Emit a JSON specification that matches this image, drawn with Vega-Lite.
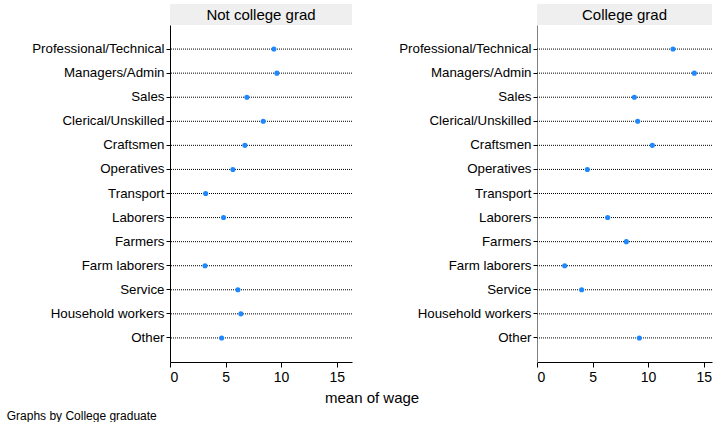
{
  "$schema": "https://vega.github.io/schema/vega-lite/v6.json",
  "padding": {"left": 6, "top": 4, "right": 0, "bottom": 0},
  "config": {
    "font": "Liberation Sans",
    "view": {"stroke": null},
    "axis": {"grid": false, "domainColor": "#000", "tickColor": "#000", "labelColor": "#000", "labelFontSize": 13}
  },
  "datasets": {
    "wages": [
      {"grad": "Not college grad", "occ": "Professional/Technical", "wage": 9.35},
      {"grad": "Not college grad", "occ": "Managers/Admin", "wage": 9.62},
      {"grad": "Not college grad", "occ": "Sales", "wage": 6.92},
      {"grad": "Not college grad", "occ": "Clerical/Unskilled", "wage": 8.39},
      {"grad": "Not college grad", "occ": "Craftsmen", "wage": 6.74},
      {"grad": "Not college grad", "occ": "Operatives", "wage": 5.66},
      {"grad": "Not college grad", "occ": "Transport", "wage": 3.21},
      {"grad": "Not college grad", "occ": "Laborers", "wage": 4.82},
      {"grad": "Not college grad", "occ": "Farmers", "wage": null},
      {"grad": "Not college grad", "occ": "Farm laborers", "wage": 3.15},
      {"grad": "Not college grad", "occ": "Service", "wage": 6.11},
      {"grad": "Not college grad", "occ": "Household workers", "wage": 6.38},
      {"grad": "Not college grad", "occ": "Other", "wage": 4.65},
      {"grad": "College grad", "occ": "Professional/Technical", "wage": 12.24},
      {"grad": "College grad", "occ": "Managers/Admin", "wage": 14.16},
      {"grad": "College grad", "occ": "Sales", "wage": 8.76},
      {"grad": "College grad", "occ": "Clerical/Unskilled", "wage": 9.06},
      {"grad": "College grad", "occ": "Craftsmen", "wage": 10.38},
      {"grad": "College grad", "occ": "Operatives", "wage": 4.53},
      {"grad": "College grad", "occ": "Transport", "wage": null},
      {"grad": "College grad", "occ": "Laborers", "wage": 6.36},
      {"grad": "College grad", "occ": "Farmers", "wage": 8.04},
      {"grad": "College grad", "occ": "Farm laborers", "wage": 2.49},
      {"grad": "College grad", "occ": "Service", "wage": 4.02},
      {"grad": "College grad", "occ": "Household workers", "wage": null},
      {"grad": "College grad", "occ": "Other", "wage": 9.21}
    ]
  },
  "title": {"text": "Graphs by College graduate", "orient": "bottom", "anchor": "start", "fontSize": 12, "fontWeight": "normal", "color": "#000", "dx": -25, "offset": 5},
  "vconcat": [
    {
      "title": {"text": "mean of wage", "orient": "bottom", "anchor": "middle", "fontSize": 15, "fontWeight": "normal", "color": "#000", "offset": 7},
      "bounds": "flush",
      "spacing": 367,
      "hconcat": [
        {
          "bounds": "flush",
          "spacing": 0,
          "vconcat": [
            {
              "width": 182, "height": 21,
              "view": {"fill": "#efefef", "stroke": null},
              "data": {"values": [{"h": "Not college grad"}]},
              "mark": {"type": "text", "fontSize": 15, "color": "#000", "baseline": "middle"},
              "encoding": {"text": {"field": "h"}}
            },
            {
              "width": 182, "height": 337,
              "data": {"name": "wages"},
              "transform": [{"filter": "datum.grad === 'Not college grad'"}],
              "layer": [
                {
                  "mark": {"type": "rule", "strokeDash": [1, 1], "color": "#000", "strokeWidth": 1},
                  "encoding": {
                    "y": {"field": "occ", "type": "nominal",
                      "scale": {"domain": ["Professional/Technical", "Managers/Admin", "Sales", "Clerical/Unskilled", "Craftsmen", "Operatives", "Transport", "Laborers", "Farmers", "Farm laborers", "Service", "Household workers", "Other"], "padding": 1.05},
                      "axis": {"title": null, "tickSize": 4, "labelPadding": 2, "labelFontSize": 13.3}}
                  }
                },
                {
                  "mark": {"type": "circle", "size": 26, "color": "#1e88ff", "opacity": 1},
                  "encoding": {
                    "x": {"field": "wage", "type": "quantitative", "scale": {"domain": [0, 16.38], "nice": false, "zero": true},
                      "axis": {"values": [0, 5, 10, 15], "title": null, "tickSize": 5, "labelFontSize": 14, "labelPadding": 3}},
                    "y": {"field": "occ", "type": "nominal"}
                  }
                }
              ]
            }
          ]
        },
        {
          "bounds": "flush",
          "spacing": 0,
          "vconcat": [
            {
              "width": 175, "height": 21,
              "view": {"fill": "#efefef", "stroke": null},
              "data": {"values": [{"h": "College grad"}]},
              "mark": {"type": "text", "fontSize": 15, "color": "#000", "baseline": "middle"},
              "encoding": {"text": {"field": "h"}}
            },
            {
              "width": 175, "height": 337,
              "data": {"name": "wages"},
              "transform": [{"filter": "datum.grad === 'College grad'"}],
              "layer": [
                {
                  "mark": {"type": "rule", "strokeDash": [1, 1], "color": "#000", "strokeWidth": 1},
                  "encoding": {
                    "y": {"field": "occ", "type": "nominal",
                      "scale": {"domain": ["Professional/Technical", "Managers/Admin", "Sales", "Clerical/Unskilled", "Craftsmen", "Operatives", "Transport", "Laborers", "Farmers", "Farm laborers", "Service", "Household workers", "Other"], "padding": 1.05},
                      "axis": {"title": null, "tickSize": 4, "labelPadding": 2, "labelFontSize": 13.3, "domainColor": "#808080"}}
                  }
                },
                {
                  "mark": {"type": "circle", "size": 26, "color": "#1e88ff", "opacity": 1},
                  "encoding": {
                    "x": {"field": "wage", "type": "quantitative", "scale": {"domain": [0, 15.75], "nice": false, "zero": true},
                      "axis": {"values": [0, 5, 10, 15], "title": null, "tickSize": 5, "labelFontSize": 14, "labelPadding": 3}},
                    "y": {"field": "occ", "type": "nominal"}
                  }
                }
              ]
            }
          ]
        }
      ]
    }
  ]
}
